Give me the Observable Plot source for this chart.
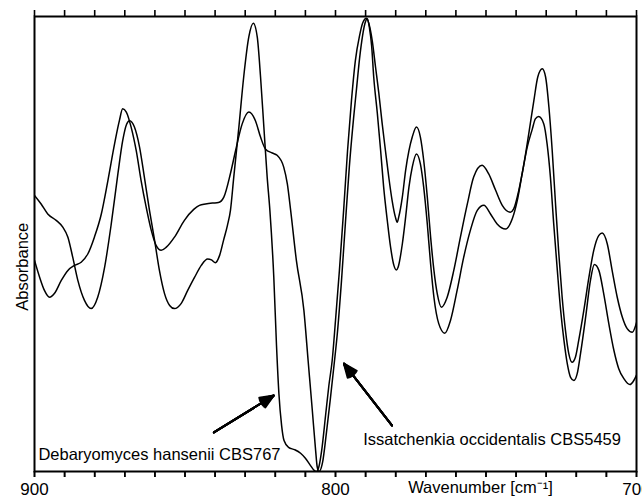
<!DOCTYPE html>
<html>
<head>
<meta charset="utf-8">
<script src="https://cdn.jsdelivr.net/npm/d3@7"></script>
<script src="https://cdn.jsdelivr.net/npm/@observablehq/plot@0.6"></script>
<style>
  html, body { margin: 0; padding: 0; background: #fff; overflow: hidden; }
  #chart { width: 642px; height: 500px; }
</style>
</head>
<body>
<div id="chart"></div>
<script>
// Debaryomyces hansenii CBS767 — wavenumber [cm-1] and absorbance (arbitrary units)
const dWave = [900.0,897.8,895.6,892.8,890.6,888.9,887.3,885.6,883.4,881.2,879.0,876.7,874.5,872.3,870.7,869.4,868.4,866.8,865.1,863.5,861.8,860.1,858.5,856.8,855.1,853.5,851.3,849.1,846.8,844.6,842.5,841.2,839.9,838.5,837.2,835.9,834.9,833.8,832.1,830.5,828.8,827.3,826.0,824.9,823.8,822.7,821.8,820.5,819.6,818.8,817.9,817.1,815.6,813.6,811.6,810.0,808.3,807.3,806.3,805.5,804.6,803.3,802.2,801.1,800.0,798.7,797.3,796.0,794.7,793.4,792.0,791.0,789.7,788.9,787.8,786.7,785.6,784.5,783.4,782.3,781.2,780.1,779.5,779.0,777.8,776.7,775.6,774.5,773.1,771.8,770.7,769.5,768.4,767.3,766.2,764.8,762.9,760.7,758.5,756.2,754.1,751.3,749.1,746.8,744.6,741.9,740.8,739.1,737.4,735.8,734.1,732.8,731.3,730.2,729.1,728.0,726.9,725.8,724.7,723.6,722.5,721.4,720.3,719.2,717.5,715.8,714.2,712.5,711.4,709.7,708.1,706.4,704.7,703.1,701.4,700.0];
const dAbs = [0.607,0.588,0.566,0.552,0.537,0.515,0.471,0.420,0.376,0.358,0.383,0.449,0.544,0.654,0.727,0.763,0.771,0.757,0.713,0.647,0.574,0.508,0.442,0.391,0.365,0.358,0.369,0.398,0.427,0.453,0.467,0.465,0.459,0.475,0.508,0.541,0.574,0.647,0.757,0.867,0.955,0.985,0.955,0.867,0.757,0.647,0.574,0.427,0.277,0.171,0.101,0.068,0.053,0.048,0.040,0.029,0.013,0.004,0.000,0.011,0.046,0.123,0.189,0.244,0.332,0.442,0.574,0.705,0.815,0.903,0.958,0.985,0.996,0.984,0.947,0.889,0.831,0.765,0.705,0.647,0.596,0.559,0.548,0.559,0.603,0.662,0.705,0.735,0.757,0.735,0.684,0.603,0.515,0.442,0.391,0.361,0.383,0.442,0.515,0.588,0.647,0.673,0.654,0.618,0.585,0.570,0.577,0.618,0.676,0.742,0.815,0.867,0.885,0.867,0.801,0.705,0.588,0.478,0.383,0.310,0.259,0.240,0.251,0.288,0.354,0.427,0.486,0.519,0.524,0.500,0.442,0.383,0.339,0.314,0.306,0.327];

// Issatchenkia occidentalis CBS5459
const iWave = [900.0,898.3,896.7,895.0,893.4,891.1,888.9,886.7,884.5,882.3,880.1,877.8,875.6,873.4,871.8,870.7,869.5,867.9,866.2,864.6,862.9,861.2,859.6,857.9,856.2,853.5,850.2,847.1,845.2,843.2,840.9,838.9,837.1,834.9,833.2,831.0,828.8,826.6,824.9,823.3,821.0,819.4,817.2,816.0,814.9,813.0,810.5,809.1,807.7,806.6,806.1,805.5,804.3,803.0,801.7,800.5,799.3,798.0,796.7,795.4,794.0,793.0,792.0,791.0,790.2,789.4,788.7,788.0,787.3,786.1,785.0,784.0,782.8,781.7,780.6,779.8,779.2,777.8,776.7,775.6,774.5,773.1,771.8,770.7,769.5,768.4,767.3,765.7,763.7,761.8,759.6,757.4,755.2,752.9,750.7,748.5,746.3,743.5,741.3,739.6,738.0,736.3,734.6,733.6,732.5,730.8,729.7,728.6,727.5,726.3,725.2,724.1,723.0,721.9,720.8,719.7,718.6,716.9,715.3,714.0,712.5,710.9,709.2,707.5,705.9,704.2,702.2,700.9,700.0];
const iAbs = [0.464,0.427,0.398,0.383,0.391,0.420,0.442,0.453,0.460,0.478,0.515,0.566,0.640,0.720,0.771,0.797,0.790,0.757,0.705,0.640,0.581,0.530,0.497,0.486,0.493,0.515,0.552,0.576,0.585,0.588,0.590,0.591,0.603,0.655,0.705,0.764,0.790,0.771,0.735,0.709,0.700,0.695,0.669,0.632,0.574,0.464,0.354,0.244,0.134,0.046,0.011,0.000,0.020,0.086,0.160,0.233,0.310,0.420,0.547,0.670,0.776,0.842,0.908,0.958,0.985,0.995,0.974,0.936,0.867,0.787,0.705,0.625,0.552,0.493,0.453,0.443,0.449,0.500,0.559,0.625,0.669,0.698,0.676,0.625,0.544,0.456,0.383,0.325,0.304,0.332,0.398,0.471,0.530,0.574,0.585,0.566,0.544,0.533,0.555,0.596,0.654,0.713,0.753,0.775,0.780,0.764,0.720,0.647,0.544,0.442,0.354,0.288,0.237,0.207,0.200,0.215,0.259,0.339,0.420,0.455,0.442,0.391,0.325,0.266,0.226,0.204,0.191,0.200,0.212];

// Axis ticks
const xTicks = [900,890,880,870,860,850,840,830,820,810,800,790,780,770,760,750,740,730,720,710,700];
const xTickLabels = [900, 800, 700];

// Annotations (label text, label anchor point, arrow tail and head in data units)
const labelNames = ["Debaryomyces hansenii CBS767", "Issatchenkia occidentalis CBS5459"];
const labelWave = [898.7, 790.8];
const labelAbs = [0.036, 0.069];
const arrowWave1 = [840.4, 781.2];
const arrowAbs1 = [0.086, 0.101];
const arrowWave2 = [820.5, 797.2];
const arrowAbs2 = [0.167, 0.237];
const yTitle = ["Absorbance"];
const yTitleAt = [{wave: 900, abs: 0.45}];
const xTitle = ["Wavenumber [cm\u207B\u00B9]"];

const spectra = [
  ...dWave.map((w, k) => ({strain: labelNames[0], wave: w, abs: dAbs[k]})),
  ...iWave.map((w, k) => ({strain: labelNames[1], wave: w, abs: iAbs[k]}))
];
const labels = labelNames.map((t, k) => ({t, x: labelWave[k], y: labelAbs[k]}));
const arrows = arrowWave1.map((x1, k) => ({x1, y1: arrowAbs1[k], x2: arrowWave2[k], y2: arrowAbs2[k]}));

const FONT = "'Liberation Sans', Arial, Helvetica, sans-serif";
const FRAME_H = 500 - 16 - 29;

// several arrow heads of decreasing angle fill the head into a solid triangle
const arrowMarks = [46, 36, 26, 16, 6].map(a =>
  Plot.arrow(arrows, {x1: "x1", y1: "y1", x2: "x2", y2: "y2", stroke: "#000", strokeWidth: 2, headLength: 11, headAngle: a})
);

const chart = Plot.plot({
  width: 642,
  height: 500,
  marginLeft: 34,
  marginRight: 6,
  marginTop: 16,
  marginBottom: 29,
  style: {fontFamily: FONT, background: "#fff", color: "#000", overflow: "hidden"},
  x: {domain: [900, 700]},
  y: {domain: [0, 1], axis: null},
  marks: [
    Plot.line(spectra, {x: "wave", y: "abs", z: "strain", stroke: "#000", strokeWidth: 1.5, curve: "monotone-x", clip: true}),
    ...arrowMarks,
    Plot.text(labels, {x: "x", y: "y", text: "t", textAnchor: "start", fontSize: 16.5, fill: "#000"}),
    // outward tick marks on top and bottom edges
    Plot.tickX(xTicks, {x: d => d, insetTop: -6, insetBottom: FRAME_H, stroke: "#000", strokeWidth: 1.6}),
    Plot.tickX(xTicks, {x: d => d, insetTop: FRAME_H, insetBottom: -6, stroke: "#000", strokeWidth: 1.6}),
    Plot.axisX({anchor: "bottom", ticks: xTicks, tickSize: 6, tickPadding: 5, strokeWidth: 1.6, stroke: "#000",
      tickFormat: d => xTickLabels.includes(d) ? String(d) : "", fontSize: 17, label: null, fill: "#000"}),
    Plot.text(yTitleAt, {x: "wave", y: "abs", text: () => yTitle[0], rotate: -90, dx: -12, fontSize: 16.5, fill: "#000"}),
    Plot.text(xTitle, {frameAnchor: "bottom", text: d => d, dx: 145, dy: 21, fontSize: 16.5, fill: "#000"}),
    Plot.frame({stroke: "#000", strokeWidth: 2})
  ]
});
document.getElementById("chart").appendChild(chart);
</script>
</body>
</html>
